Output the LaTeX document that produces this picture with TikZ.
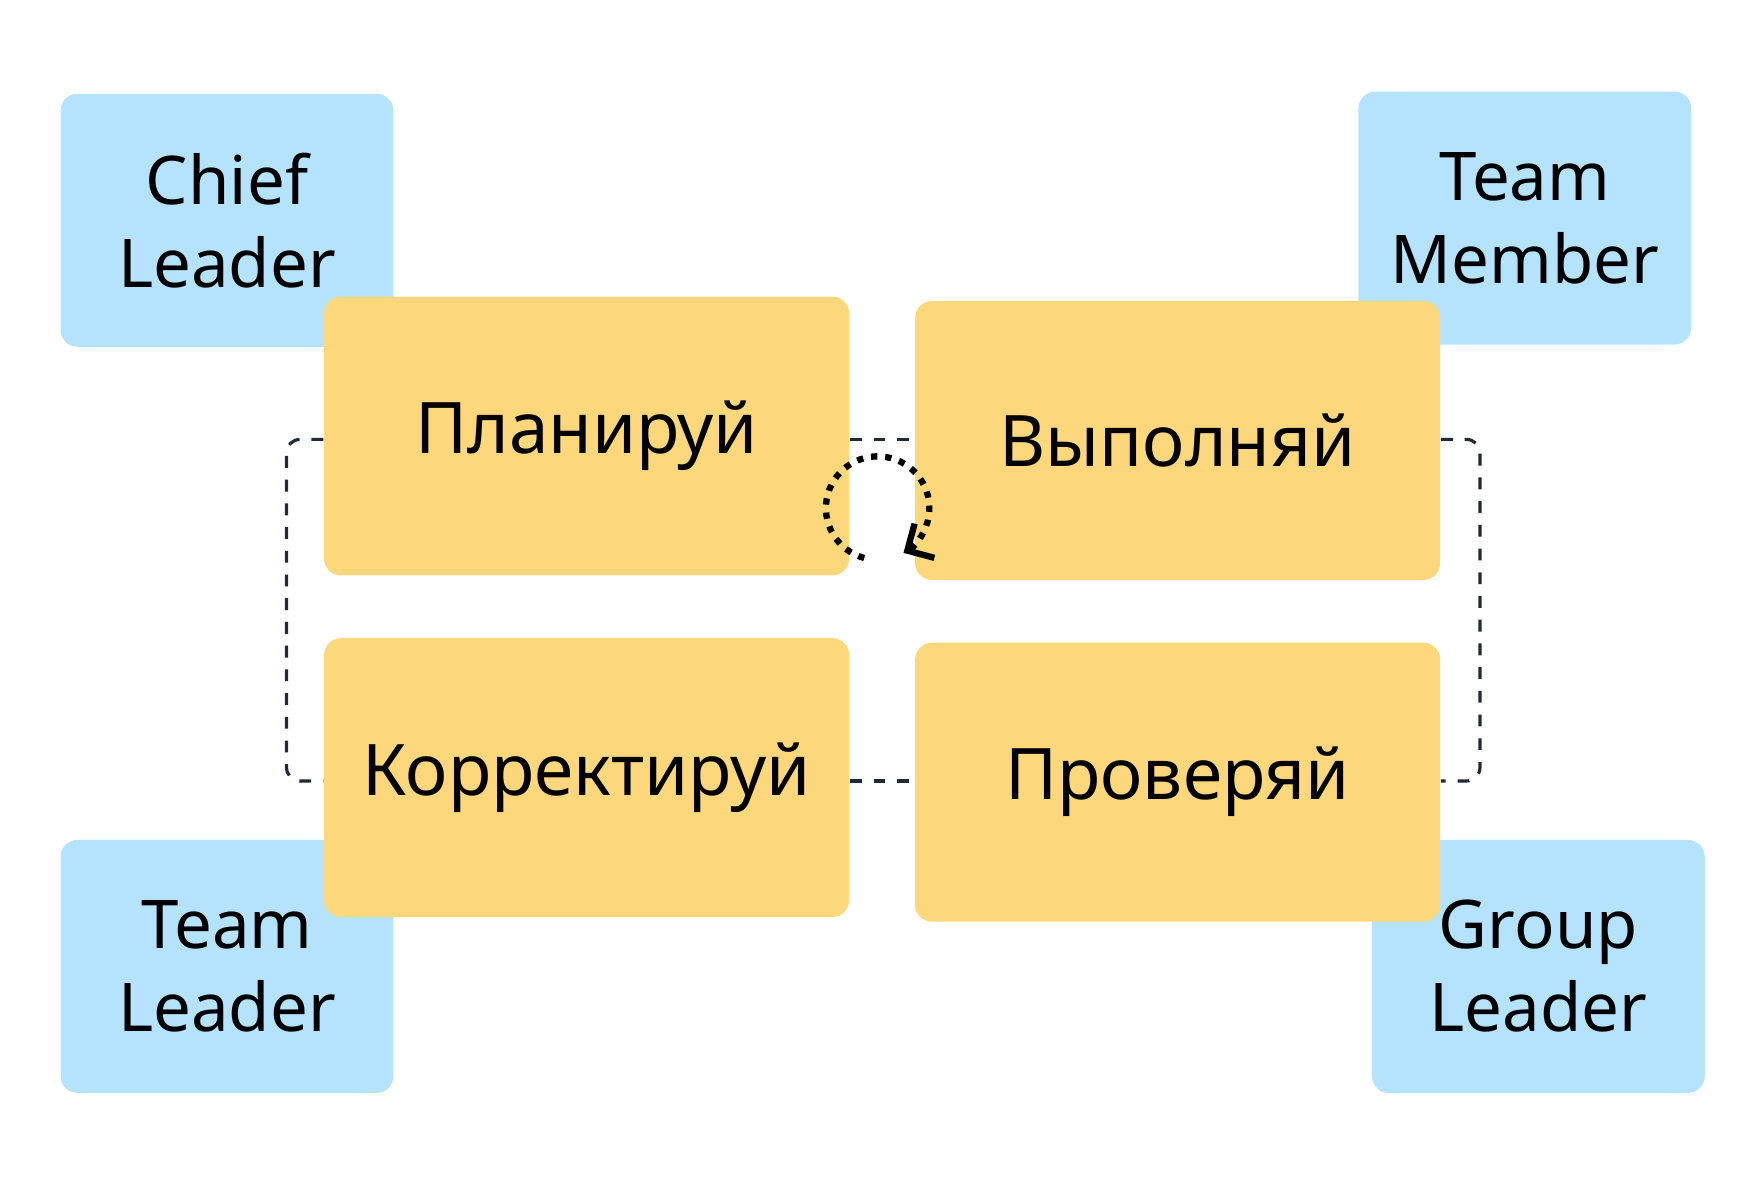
\documentclass[tikz,border=0pt]{standalone}
\usepackage{fontspec}
\setmainfont{Noto Sans}
\usetikzlibrary{positioning,calc,arrows.meta}
\definecolor{roleblue}{HTML}{B5E3FD}
\definecolor{stepyellow}{HTML}{FDD77C}
\definecolor{linkgray}{HTML}{1E2A38}
\begin{document}
\begin{tikzpicture}[
    x=0.01cm, y=-0.01cm,
    role/.style={fill=roleblue, rounded corners=0.15cm, minimum width=2.96cm, minimum height=2.25cm, align=center, font=\fontsize{17}{21}\selectfont},
    stepbox/.style={fill=stepyellow, rounded corners=0.15cm, minimum width=4.67cm, minimum height=2.48cm, align=center, font=\fontsize{18}{22}\selectfont},
    link/.style={dashed, thick, linkgray, rounded corners=0.12cm}
]
    \useasboundingbox (0,0) rectangle (1568,1059);
    % roles
    \node[role] (chief) at (202,196) {Chief\\Leader};
    \node[role] (member) at (1357,194) {Team\\Member};
    \node[role] (tleader) at (202,860) {Team\\Leader};
    \node[role] (gleader) at (1369,860) {Group\\Leader};
    % cycle steps
    \node[stepbox] (plan) at (522,388) {Планируй};
    \node[stepbox] (do) at (1048,392) {Выполняй};
    \node[stepbox] (fix) at (522,692) {Корректируй};
    \node[stepbox] (check) at (1048,696) {Проверяй};
    % links
    \draw[link] (plan.east |- 0,391) -- (do.west |- 0,391);
    \draw[link] (fix.east |- 0,695) -- (check.west |- 0,695);
    \draw[link] (plan.west |- 0,391) -- (255,391) -- (255,695) -- (fix.west |- 0,695);
    \draw[link] (do.east |- 0,391) -- (1317,391) -- (1317,695) -- (check.east |- 0,695);
    % loop
    \coordinate (loop) at (781,541);
    \draw[dotted, line width=1.6pt, -{Straight Barb[length=5pt]}] ($(loop)+(-105:46)$) arc[start angle=-105, end angle=-420, radius=0.46cm];
\end{tikzpicture}
\end{document}
